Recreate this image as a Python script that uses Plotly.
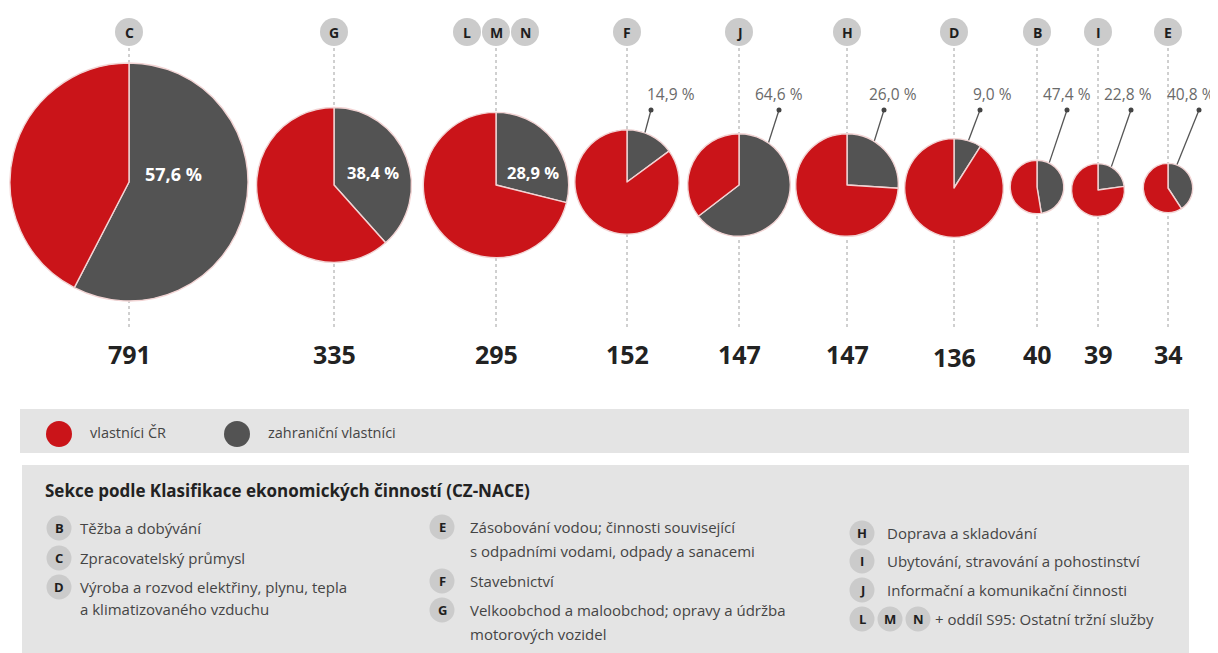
import math
import plotly.graph_objects as go

# ---------------- data ----------------
sections = ["C", "G", "LMN", "F", "J", "H", "D", "B", "I", "E"]
totals = [791, 335, 295, 152, 147, 147, 136, 40, 39, 34]
foreign_pct = [57.6, 38.4, 28.9, 14.9, 64.6, 26.0, 9.0, 47.4, 22.8, 40.8]

legend_owner = ["vlastníci ČR", "zahraniční vlastníci"]
legend_title = "Sekce podle Klasifikace ekonomických činností (CZ-NACE)"
col1 = [("B", ["Těžba a dobývání"]),
        ("C", ["Zpracovatelský průmysl"]),
        ("D", ["Výroba a rozvod elektřiny, plynu, tepla", "a klimatizovaného vzduchu"])]
col2 = [("E", ["Zásobování vodou; činnosti související", "s odpadními vodami, odpady a sanacemi"]),
        ("F", ["Stavebnictví"]),
        ("G", ["Velkoobchod a maloobchod; opravy a údržba", "motorových vozidel"])]
col3 = [("H", ["Doprava a skladování"]),
        ("I", ["Ubytování, stravování a pohostinství"]),
        ("J", ["Informační a komunikační činnosti"]),
        ("LMN", ["+ oddíl S95: Ostatní tržní služby"])]

# ---------------- layout constants ----------------
PAGE_W, PAGE_H = 1218, 653
OFF = 8                      # default body margin of the html page
W, H = PAGE_W - OFF, PAGE_H - OFF
RED = "#ca1419"
GRAY = "#535353"
BADGE = "#cbcbcb"
BOX = "#e4e4e4"
FONT = "Open Sans, Lato, sans-serif"

R_MAX = 119.0
cx = [129, 334, 496, 627, 739, 847, 954, 1037, 1098, 1168]
cy = [182, 185, 185, 182, 185, 185, 188, 187, 190, 188]
inside_dx = [44, 39, 37]
inside_dy = [-8, -13, -13]
inside_size = [18, 16.5, 16.5]
label_dx = [0, 0, 0, 44, 40, 46, 38, 30, 30, 29]
dot_dx = [0, 0, 0, 24, 40, 37, 26, 30, 33, 31]
leader_deg = [0, 0, 0, 20, 35, 32, 17, 27, 30, 21]
LABEL_Y = 94
DOT_Y = 110
BADGE_Y = 32
BADGE_R = 14
NUM_Y = [354, 354, 354, 354, 354, 354, 357, 354, 354, 354]


def fmt(p):
    return f"{p:.1f}".replace(".", ",") + " %"


fig = go.Figure()
shapes = []
ann = []

# background boxes
shapes.append(dict(type="rect", xref="x", yref="y", x0=20, x1=1189, y0=409, y1=453,
                   fillcolor=BOX, line=dict(width=0), layer="below"))
shapes.append(dict(type="rect", xref="x", yref="y", x0=22, x1=1189, y0=465, y1=670,
                   fillcolor=BOX, line=dict(width=0), layer="below"))

radii = [R_MAX * math.sqrt(t / totals[0]) for t in totals]

# dotted guide lines
for i, s in enumerate(sections):
    fig.add_trace(go.Scatter(x=[cx[i], cx[i]], y=[BADGE_Y + BADGE_R + 2, 330], mode="lines",
                             line=dict(color="#a0a0a0", width=1, dash="dot"),
                             hoverinfo="skip", showlegend=False))

# leader lines + dots for outside labels
for i in range(3, len(sections)):
    a = math.radians(leader_deg[i])
    ex = cx[i] + radii[i] * math.sin(a)
    ey = cy[i] - radii[i] * math.cos(a)
    dx = cx[i] + dot_dx[i]
    fig.add_trace(go.Scatter(x=[dx, ex], y=[DOT_Y, ey], mode="lines",
                             line=dict(color="#555555", width=1.3),
                             hoverinfo="skip", showlegend=False))
    fig.add_trace(go.Scatter(x=[dx], y=[DOT_Y], mode="markers",
                             marker=dict(color="#444444", size=5),
                             hoverinfo="skip", showlegend=False))
    last = i == len(sections) - 1
    ann.append(dict(x=(PAGE_W - 1) if last else cx[i] + label_dx[i], y=LABEL_Y,
                    xanchor="right" if last else "center", text=fmt(foreign_pct[i]),
                    showarrow=False, font=dict(family=FONT, size=15.5, color="#6a6a6a")))

# pies (domain in figure fractions, figure starts at page offset OFF)
for i, s in enumerate(sections):
    r = radii[i]
    fig.add_trace(go.Pie(
        values=[foreign_pct[i], 100 - foreign_pct[i]],
        labels=["zahraniční", "ČR"],
        marker=dict(colors=[GRAY, RED], line=dict(color="#f2d4d4", width=1.4)),
        sort=False, direction="clockwise", rotation=0,
        textinfo="none", hoverinfo="skip", showlegend=False,
        domain=dict(x=[(cx[i] - r - OFF) / W, (cx[i] + r - OFF) / W],
                    y=[1 - (cy[i] + r - OFF) / H, 1 - (cy[i] - r - OFF) / H]),
    ))

# inside labels
for i in range(3):
    ann.append(dict(x=cx[i] + inside_dx[i], y=cy[i] + inside_dy[i], text="<b>" + fmt(foreign_pct[i]) + "</b>",
                    showarrow=False, font=dict(family=FONT, size=inside_size[i], color="white")))


def badge(x, y, letter, r=BADGE_R, size=14):
    shapes.append(dict(type="circle", xref="x", yref="y", x0=x - r, x1=x + r, y0=y - r, y1=y + r,
                       fillcolor=BADGE, line=dict(width=0), layer="above"))
    ann.append(dict(x=x, y=y, text="<b>" + letter + "</b>", showarrow=False,
                    font=dict(family=FONT, size=size, color="#1e1e1e")))


for i, s in enumerate(sections):
    if len(s) == 1:
        badge(cx[i], BADGE_Y, s)
    else:
        for k, ch in enumerate(s):
            badge(cx[i] + (k - 1) * 29, BADGE_Y, ch)
    ann.append(dict(x=cx[i], y=NUM_Y[i], text="<b>" + str(totals[i]) + "</b>", showarrow=False,
                    font=dict(family=FONT, size=25, color="#222222")))

# owner legend
for (lx, tx, col, txt) in [(59, 88, RED, legend_owner[0]), (237, 266, GRAY, legend_owner[1])]:
    shapes.append(dict(type="circle", xref="x", yref="y", x0=lx - 13, x1=lx + 13, y0=434 - 13, y1=434 + 13,
                       fillcolor=col, line=dict(width=0), layer="above"))
    ann.append(dict(x=tx, y=432, text=txt, showarrow=False, xanchor="left",
                    font=dict(family=FONT, size=14.5, color="#444444")))

ann.append(dict(x=43, y=490, text="<b>" + legend_title + "</b>", showarrow=False, xanchor="left",
                font=dict(family=FONT, size=17, color="#222222")))


def legend_col(items, bx, tx, rows, line_gap):
    for (code, lines), y in zip(items, rows):
        if len(code) == 1:
            badge(bx, y, code, r=12.5, size=13)
            t0 = tx
        else:
            for k, ch in enumerate(code):
                badge(bx + k * 28, y, ch, r=12.5, size=13)
            t0 = bx + 2 * 28 + 15
        for j, ln in enumerate(lines):
            ann.append(dict(x=t0, y=y + j * line_gap, text=ln, showarrow=False, xanchor="left",
                            font=dict(family=FONT, size=15, color="#444444")))


legend_col(col1, 59, 78, [528, 558, 587], 22)
legend_col(col2, 442, 468, [527, 581, 610], 24)
legend_col(col3, 862, 885, [533, 561, 590, 619], 22)

for a in ann:
    a.setdefault("xref", "x")
    a.setdefault("yref", "y")

fig.update_layout(
    width=W, height=H, margin=dict(l=0, r=0, t=0, b=0),
    paper_bgcolor="white", plot_bgcolor="white",
    xaxis=dict(range=[OFF, OFF + W], visible=False, fixedrange=True, domain=[0, 1]),
    yaxis=dict(range=[OFF + H, OFF], visible=False, fixedrange=True, domain=[0, 1]),
    shapes=shapes, annotations=ann, showlegend=False,
)

fig.write_html("out.html")
